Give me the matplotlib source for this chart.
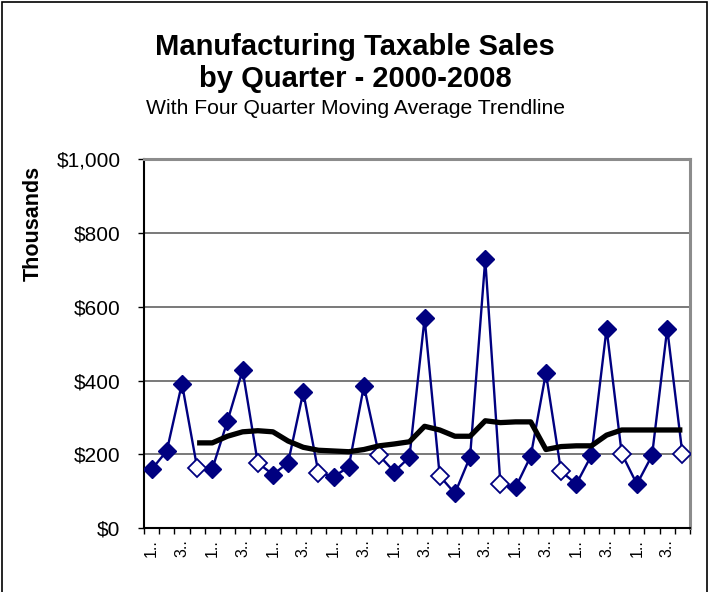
import matplotlib
matplotlib.use("Agg")
import matplotlib.pyplot as plt
from matplotlib.patches import Rectangle

plt.rcParams['font.family'] = ['Liberation Sans', 'DejaVu Sans']

quarter_labels = ["1..", "2..", "3..", "4.."] * 9
sales = [159, 209, 392, 164,
         160, 290, 428, 177,
         145, 177, 369, 150,
         139, 166, 386, 197,
         153, 192, 569, 141,
         94, 193, 729, 119,
         110, 195, 421, 154,
         119, 197, 541, 202,
         119, 197, 541, 202]
moving_avg = [231, 231, 249, 261, 264, 261, 236, 219, 211, 209, 207, 213,
              223, 228, 234, 276, 266, 249, 249, 291, 286, 288, 288, 213,
              221, 223, 223, 252, 266, 266, 266, 266, 266]
y_ticks = [0, 200, 400, 600, 800, 1000]
y_tick_labels = ["$0", "$200", "$400", "$600", "$800", "$1,000"]

fig = plt.figure(figsize=(7.13, 5.92), dpi=100)
ax = fig.add_axes([0.2020, 0.1081, 0.7657, 0.6225])

n = len(sales)
x = list(range(n))
filled_idx = [i for i in x if i % 4 != 3]
open_idx = [i for i in x if i % 4 == 3]

navy = "#000080"
ax.plot(x, sales, color=navy, lw=1.7, zorder=3)
ax.plot(x, sales, ls='none', marker='D', markersize=9, color=navy,
        markevery=filled_idx, zorder=4)
ax.plot(x, sales, ls='none', marker='D', markersize=9, markerfacecolor='white',
        markeredgecolor=navy, markeredgewidth=1.3, markevery=open_idx, zorder=4)

ma_x = x[3:]
ax.plot(ma_x, moving_avg, color='black', lw=3.8, solid_joinstyle='round',
        solid_capstyle='butt', zorder=5)

ax.set_xlim(-0.5, n - 0.5)
ax.set_ylim(0, 1000)
ax.set_yticks(y_ticks)
ax.set_yticklabels(y_tick_labels, fontsize=15)
ax.tick_params(axis='y', direction='out', length=4, width=1, pad=13, color='black')

ax.set_xticks([i - 0.5 for i in range(n + 1)], minor=True)
ax.set_xticks(x[::2])
ax.set_xticklabels(quarter_labels[::2], rotation=90, fontsize=11.5)
ax.tick_params(axis='x', which='major', length=0, pad=8)
ax.tick_params(axis='x', which='minor', direction='out', length=4, width=1, color='black')

for v in y_ticks[1:-1]:
    ax.axhline(v, color='#555555', lw=1.1, zorder=1)

ax.spines['left'].set_color('black')
ax.spines['left'].set_linewidth(1.5)
ax.spines['bottom'].set_color('black')
ax.spines['bottom'].set_linewidth(1.5)
ax.spines['top'].set_color('#8c8c8c')
ax.spines['top'].set_linewidth(2.2)
ax.spines['right'].set_color('#8c8c8c')
ax.spines['right'].set_linewidth(2.2)

fig.text(0.498, 1 - 55 / 592, "Manufacturing Taxable Sales", ha='center', va='baseline',
         fontsize=21, fontweight='bold')
fig.text(0.498, 1 - 86.7 / 592, "by Quarter - 2000-2008", ha='center', va='baseline',
         fontsize=21, fontweight='bold')
fig.text(0.498, 1 - 114.3 / 592, "With Four Quarter Moving Average Trendline", ha='center',
         va='baseline', fontsize=15.2)
fig.text(33 / 713, 0.622, "Thousands", rotation=90, ha='center', va='center',
         fontsize=15.5, fontweight='bold')

fig.patches.append(Rectangle((2 / 713, -0.01), 705 / 713, 1.0 - 2 / 592 + 0.01,
                             transform=fig.transFigure, fill=False,
                             edgecolor='black', lw=1.2))

fig.savefig("out.png", dpi=100)
